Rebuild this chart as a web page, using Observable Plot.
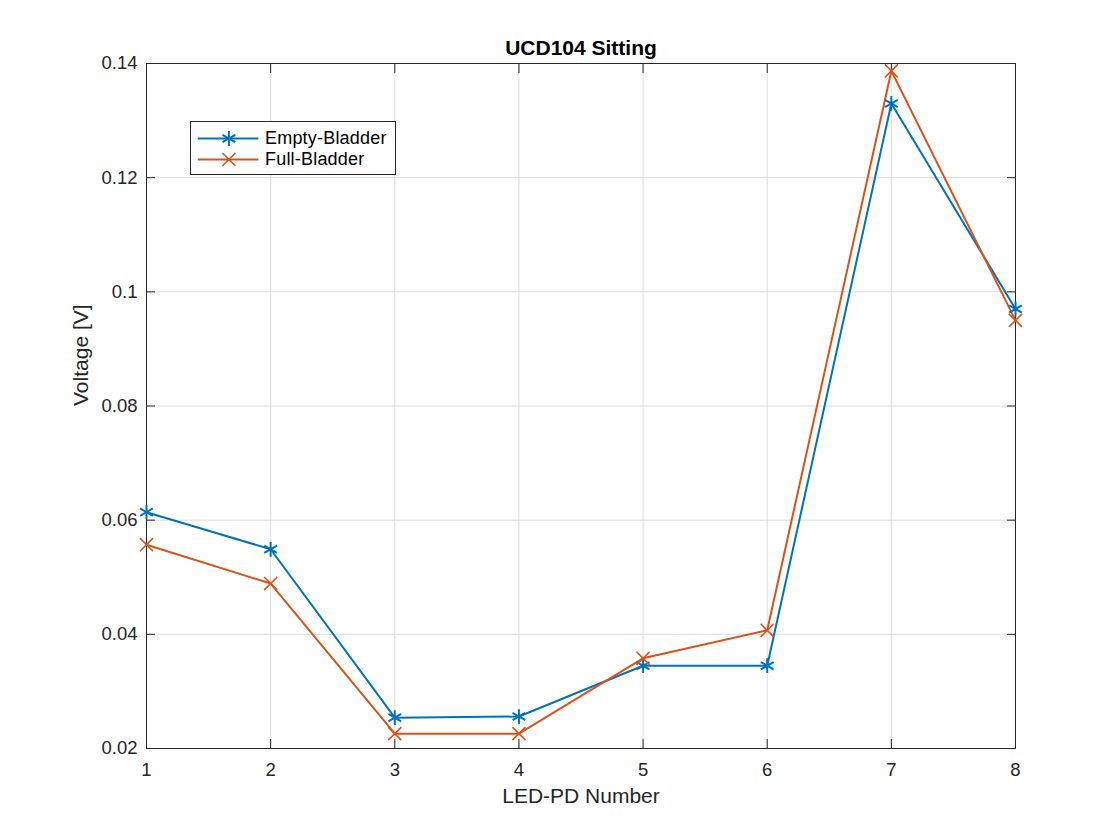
<!DOCTYPE html>
<html>
<head>
<meta charset="utf-8">
<script src="https://cdn.jsdelivr.net/npm/d3@7"></script>
<script src="https://cdn.jsdelivr.net/npm/@observablehq/plot@0.6"></script>
<style>
  html, body { margin: 0; padding: 0; background: #fff; }
  #wrap { position: relative; width: 1120px; height: 840px; font-family: "Liberation Sans", Arial, Helvetica, sans-serif; }
  #legend { position: absolute; left: 190px; top: 121px; width: 204px; height: 52px; border: 1px solid #262626; background: #fff; }
  .lg-row { position: absolute; left: 0; height: 22px; display: flex; align-items: center; }
  .lg-row span { font-size: 18px; color: #000; margin-left: 6px; letter-spacing: 0.2px; }
</style>
</head>
<body>
<div id="wrap"></div>
<script>
const ledNumbers = [1, 2, 3, 4, 5, 6, 7, 8];
const emptyBladder = [0.0614, 0.0549, 0.0254, 0.0256, 0.0345, 0.0345, 0.1330, 0.0970];
const fullBladder = [0.0557, 0.0489, 0.0226, 0.0226, 0.0358, 0.0407, 0.1387, 0.0950];
const xTicks = [1, 2, 3, 4, 5, 6, 7, 8];
const yTicks = [0.02, 0.04, 0.06, 0.08, 0.10, 0.12, 0.14];
const seriesNames = ["Empty-Bladder", "Full-Bladder"];
const seriesColors = ["#0072BD", "#D95319"];
const titleText = "UCD104 Sitting";
const xLabel = "LED-PD Number";
const yLabel = "Voltage [V]";

const emptyData = ledNumbers.map((x, i) => ({x, y: emptyBladder[i]}));
const fullData = ledNumbers.map((x, i) => ({x, y: fullBladder[i]}));
const fmtY = d => String(+d.toFixed(2));
const axisColor = "#262626";

const chart = Plot.plot({
  width: 1120,
  height: 840,
  marginLeft: 146,
  marginRight: 105,
  marginTop: 63,
  marginBottom: 92,
  style: {fontFamily: '"Liberation Sans", Arial, Helvetica, sans-serif', fontSize: "18px", color: axisColor, background: "#fff"},
  x: {domain: [1, 8]},
  y: {domain: [0.02, 0.14]},
  marks: [
    Plot.gridX(xTicks, {stroke: "#dcdcdc", strokeOpacity: 1}),
    Plot.gridY(yTicks, {stroke: "#dcdcdc", strokeOpacity: 1}),
    Plot.frame({stroke: axisColor}),
    Plot.axisX(xTicks, {anchor: "bottom", tickSize: 0, tickPadding: 14, tickFormat: d => String(d), label: null, fontSize: 18.5, letterSpacing: 0.3, fill: axisColor}),
    Plot.axisY(yTicks, {anchor: "left", tickSize: 0, tickPadding: 9, tickFormat: fmtY, label: null, fontSize: 18.5, letterSpacing: 0.3, fill: axisColor}),
    Plot.axisX(xTicks, {anchor: "bottom", tickSize: -9, tickFormat: () => "", label: null, stroke: axisColor}),
    Plot.axisX(xTicks, {anchor: "top", tickSize: -9, tickFormat: () => "", label: null, stroke: axisColor}),
    Plot.axisY(yTicks, {anchor: "left", tickSize: -9, tickFormat: () => "", label: null, stroke: axisColor}),
    Plot.axisY(yTicks, {anchor: "right", tickSize: -9, tickFormat: () => "", label: null, stroke: axisColor}),
    Plot.line(emptyData, {x: "x", y: "y", stroke: seriesColors[0], strokeWidth: 2}),
    Plot.line(fullData, {x: "x", y: "y", stroke: seriesColors[1], strokeWidth: 2}),
    Plot.dot(emptyData, {x: "x", y: "y", symbol: "asterisk", stroke: seriesColors[0], strokeWidth: 2, r: 7}),
    Plot.dot(fullData, {x: "x", y: "y", symbol: "times", stroke: seriesColors[1], strokeWidth: 1.6, r: 6}),
    Plot.text([titleText], {frameAnchor: "top", lineAnchor: "bottom", dy: -9, text: d => d, fontWeight: "bold", fontSize: 21, letterSpacing: 0.6, fill: "#000"}),
    Plot.text([xLabel], {frameAnchor: "bottom", lineAnchor: "top", dy: 40, text: d => d, fontSize: 21, letterSpacing: 0.6, fill: axisColor}),
    Plot.text([yLabel], {frameAnchor: "left", dx: -65, rotate: -90, text: d => d, fontSize: 21, letterSpacing: 0.6, fill: axisColor})
  ]
});

const wrap = document.getElementById("wrap");
wrap.appendChild(chart);

// Legend (HTML overlay) with Plot-drawn samples
const legend = document.createElement("div");
legend.id = "legend";
seriesNames.forEach((name, i) => {
  const row = document.createElement("div");
  row.className = "lg-row";
  row.style.top = (5 + i * 21) + "px";
  const sample = Plot.plot({
    width: 68, height: 22, margin: 0,
    x: {domain: [0, 1], axis: null}, y: {domain: [0, 1], axis: null},
    style: {background: "transparent"},
    marks: [
      Plot.ruleY([0.5], {x1: 0.1, x2: 0.99, stroke: seriesColors[i], strokeWidth: 2}),
      Plot.dot([0.5], {x: d => 0.55, y: d => 0.5, symbol: i === 0 ? "asterisk" : "times", stroke: seriesColors[i], strokeWidth: i === 0 ? 2 : 1.6, r: i === 0 ? 7 : 6})
    ]
  });
  row.appendChild(sample);
  const label = document.createElement("span");
  label.textContent = name;
  row.appendChild(label);
  legend.appendChild(row);
});
wrap.appendChild(legend);
</script>
</body>
</html>
